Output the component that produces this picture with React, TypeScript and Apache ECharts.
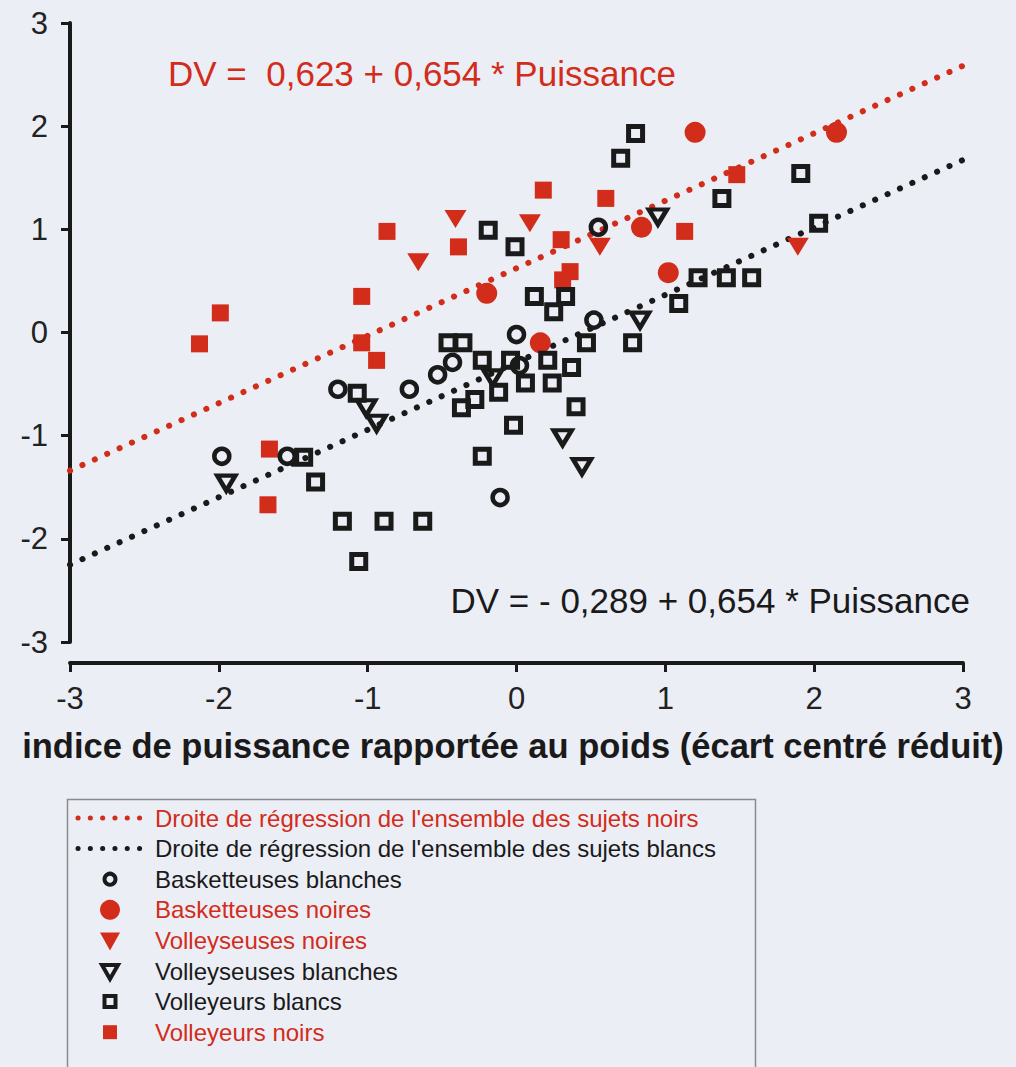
import React, { useEffect, useRef } from "react";
import * as echarts from "echarts";

// Regression lines (endpoints at x = -3 and x = 3)
const droiteNoirs: number[][] = [[-3, -1.339], [3, 2.585]];
const droiteBlancs: number[][] = [[-3, -2.251], [3, 1.673]];

const basketteusesBlanches: number[][] = [
  [-1.98, -1.2], [-1.54, -1.2], [-1.2, -0.55], [-0.72, -0.55], [-0.53, -0.41],
  [-0.43, -0.29], [-0.11, -1.6], [0.0, -0.02], [0.02, -0.32], [0.52, 0.12], [0.55, 1.02],
];
const basketteusesNoires: number[][] = [
  [-0.2, 0.38], [0.16, -0.1], [0.84, 1.02], [1.02, 0.58], [1.2, 1.94], [2.15, 1.94],
];
const volleyseusesNoires: number[][] = [
  [-0.41, 1.1], [-0.66, 0.68], [0.09, 1.06], [0.56, 0.83], [1.89, 0.83],
];
const volleyseusesBlanches: number[][] = [
  [-1.95, -1.46], [-1.01, -0.73], [-0.94, -0.88], [-0.16, -0.44], [0.31, -1.02],
  [0.44, -1.3], [0.83, 0.12], [0.95, 1.12],
];
const volleyeursBlancs: number[][] = [
  [-1.43, -1.21], [-1.35, -1.45], [-1.17, -1.83], [-0.89, -1.83], [-0.63, -1.83],
  [-1.06, -2.22], [-1.07, -0.59], [-0.46, -0.1], [-0.36, -0.1], [-0.37, -0.73],
  [-0.28, -0.65], [-0.23, -0.27], [-0.12, -0.58], [-0.04, -0.27], [-0.02, -0.9],
  [-0.23, -1.2], [0.06, -0.49], [0.21, -0.27], [0.24, -0.49], [0.37, -0.34],
  [0.4, -0.72], [0.47, -0.1], [0.78, -0.1], [0.12, 0.35], [0.33, 0.35],
  [0.25, 0.2], [-0.19, 0.99], [-0.01, 0.83], [0.7, 1.69], [0.8, 1.93],
  [1.38, 1.3], [1.91, 1.54], [2.03, 1.06], [1.09, 0.28], [1.22, 0.53],
  [1.41, 0.53], [1.58, 0.53],
];
const volleyeursNoirs: number[][] = [
  [-2.13, -0.11], [-1.99, 0.19], [-0.87, 0.98], [-1.04, 0.35], [-1.04, -0.1],
  [-0.94, -0.27], [-1.66, -1.13], [-1.67, -1.67], [-0.39, 0.83], [0.18, 1.38],
  [0.6, 1.3], [0.3, 0.9], [0.36, 0.59], [0.31, 0.51], [1.13, 0.98], [1.48, 1.53],
];

const equationNoirs = "DV =  0,623 + 0,654 * Puissance";
const equationBlancs = "DV = - 0,289 + 0,654 * Puissance";
const xTitle = "indice de puissance rapportée au poids (écart centré réduit)";
const legendNames = [
  "Droite de régression de l'ensemble des sujets noirs",
  "Droite de régression de l'ensemble des sujets blancs",
  "Basketteuses blanches",
  "Basketteuses noires",
  "Volleyseuses noires",
  "Volleyseuses blanches",
  "Volleyeurs blancs",
  "Volleyeurs noirs",
];
const legendKinds = ["dotsRed", "dotsBlack", "circleHollow", "circleRed", "triRed", "triHollow", "squareHollow", "squareRed"];

const RED = "#d22c1a";
const BLACK = "#1a1a1a";
const BG = "#eceef6";
const FONT = "Arial, 'Liberation Sans', sans-serif";

function legendGraphics(): any[] {
  const out: any[] = [];
  const top = 818;
  const step = 30.6;
  const mx = 110;
  out.push({
    type: "rect",
    left: 65,
    top: 797,
    shape: { width: 688, height: 275 },
    style: { fill: "none", stroke: "#8a8a8a", lineWidth: 1.5 },
    silent: true,
  });
  legendKinds.forEach((kind, i) => {
    const y = top + i * step;
    const isRed = kind.endsWith("Red");
    const col = isRed ? RED : BLACK;
    if (kind.startsWith("dots")) {
      out.push({
        type: "line",
        shape: { x1: 78, y1: y, x2: 140, y2: y },
        style: { stroke: col, lineWidth: 5, lineDash: [0.1, 12.2], lineCap: "round" },
      });
    } else if (kind === "circleHollow") {
      out.push({ type: "circle", shape: { cx: mx, cy: y, r: 5.5 }, style: { fill: "none", stroke: BLACK, lineWidth: 4 } });
    } else if (kind === "circleRed") {
      out.push({ type: "circle", shape: { cx: mx, cy: y, r: 10 }, style: { fill: RED } });
    } else if (kind === "triRed") {
      out.push({ type: "polygon", shape: { points: [[mx - 10, y - 8], [mx + 10, y - 8], [mx, y + 10]] }, style: { fill: RED } });
    } else if (kind === "triHollow") {
      out.push({ type: "polygon", shape: { points: [[mx - 8, y - 6], [mx + 8, y - 6], [mx, y + 8]] }, style: { fill: "none", stroke: BLACK, lineWidth: 4, lineJoin: "miter" } });
    } else if (kind === "squareHollow") {
      out.push({ type: "rect", shape: { x: mx - 5.5, y: y - 5.5, width: 11, height: 11 }, style: { fill: "none", stroke: BLACK, lineWidth: 4 } });
    } else if (kind === "squareRed") {
      out.push({ type: "rect", shape: { x: mx - 7, y: y - 7, width: 14, height: 14 }, style: { fill: RED } });
    }
    out.push({
      type: "text",
      x: 155,
      y,
      style: {
        text: legendNames[i],
        fill: isRed || kind === "circleRed" ? RED : BLACK,
        font: `24px ${FONT}`,
        textAlign: "left",
        textVerticalAlign: "middle",
      },
    });
  });
  return out;
}

export default function App() {
  const ref = useRef<HTMLDivElement>(null);
  useEffect(() => {
    if (!ref.current) return;
    const chart = echarts.init(ref.current, undefined, { renderer: "svg" });
    const dots = (color: string) => ({
      color,
      width: 6,
      type: [0.1, 13.5] as any,
      cap: "round" as const,
    });
    const hollow = (bw: number) => ({ color: "transparent", borderColor: BLACK, borderWidth: bw, opacity: 1 });
    const filled = { color: RED, opacity: 1 };
    chart.setOption({
      animation: false,
      backgroundColor: BG,
      textStyle: { fontFamily: FONT },
      grid: { left: 70, top: 23, width: 893, height: 619, containLabel: false },
      xAxis: {
        type: "value",
        min: -3,
        max: 3,
        interval: 1,
        offset: 21,
        axisLine: { show: true, onZero: false, lineStyle: { color: BLACK, width: 4 } },
        axisTick: { show: true, length: 9, lineStyle: { color: BLACK, width: 3 } },
        axisLabel: { fontSize: 31, color: "#222", margin: 20, fontFamily: FONT },
        splitLine: { show: false },
      },
      yAxis: {
        type: "value",
        min: -3,
        max: 3,
        interval: 1,
        axisLine: { show: true, onZero: false, lineStyle: { color: BLACK, width: 4 } },
        axisTick: { show: true, length: 9, lineStyle: { color: BLACK, width: 3 } },
        axisLabel: { fontSize: 31, color: "#222", margin: 22, fontFamily: FONT },
        splitLine: { show: false },
      },
      graphic: [
        {
          type: "text",
          x: 168,
          y: 73,
          style: {
            text: equationNoirs,
            fill: RED,
            font: `35px ${FONT}`,
            textAlign: "left",
            textVerticalAlign: "middle",
          },
        },
        {
          type: "text",
          x: 970,
          y: 600,
          style: {
            text: equationBlancs,
            fill: BLACK,
            font: `35px ${FONT}`,
            textAlign: "right",
            textVerticalAlign: "middle",
          },
        },
        {
          type: "text",
          x: 513,
          y: 746,
          style: {
            text: xTitle,
            fill: BLACK,
            font: `bold 34.5px ${FONT}`,
            textAlign: "center",
            textVerticalAlign: "middle",
          },
        },
        ...legendGraphics(),
      ],
      series: [
        {
          name: legendNames[0],
          type: "line",
          data: droiteNoirs,
          showSymbol: false,
          symbol: "none",
          lineStyle: dots(RED),
          itemStyle: { color: RED },
          z: 1,
        },
        {
          name: legendNames[1],
          type: "line",
          data: droiteBlancs,
          showSymbol: false,
          symbol: "none",
          lineStyle: dots(BLACK),
          itemStyle: { color: BLACK },
          z: 1,
        },
        {
          name: legendNames[2],
          type: "scatter",
          data: basketteusesBlanches,
          symbol: "circle",
          symbolSize: 15,
          itemStyle: hollow(4.5),
          z: 3,
        },
        {
          name: legendNames[3],
          type: "scatter",
          data: basketteusesNoires,
          symbol: "circle",
          symbolSize: 21,
          itemStyle: filled,
          z: 2,
        },
        {
          name: legendNames[4],
          type: "scatter",
          data: volleyseusesNoires,
          symbol: "triangle",
          symbolRotate: 180,
          symbolSize: [22, 18],
          itemStyle: filled,
          z: 2,
        },
        {
          name: legendNames[5],
          type: "scatter",
          data: volleyseusesBlanches,
          symbol: "triangle",
          symbolRotate: 180,
          symbolSize: [18, 15],
          itemStyle: hollow(4.5),
          z: 3,
        },
        {
          name: legendNames[6],
          type: "scatter",
          data: volleyeursBlancs,
          symbol: "rect",
          symbolSize: 14,
          itemStyle: hollow(5),
          z: 3,
        },
        {
          name: legendNames[7],
          type: "scatter",
          data: volleyeursNoirs,
          symbol: "rect",
          symbolSize: 17,
          itemStyle: filled,
          z: 2,
        },
      ],
    });
    return () => chart.dispose();
  }, []);
  return (
    <div
      ref={ref}
      style={{ position: "fixed", left: 0, top: 0, width: 1016, height: 1067, background: BG }}
    />
  );
}
